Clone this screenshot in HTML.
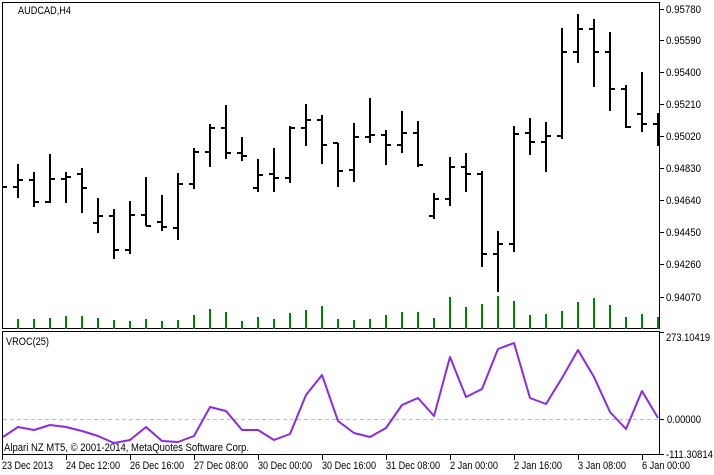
<!DOCTYPE html>
<html><head><meta charset="utf-8"><style>
html,body{margin:0;padding:0;background:#fff;}
svg{display:block;font-family:"Liberation Sans",sans-serif;font-size:11px;}
</style></head><body>
<svg width="714" height="475" viewBox="0 0 714 475" xmlns="http://www.w3.org/2000/svg">
<rect width="714" height="475" fill="#fff"/>
<g fill="none" stroke="#000" stroke-width="1" shape-rendering="crispEdges">
<rect x="2.5" y="2.5" width="657" height="326"/>
<rect x="2.5" y="331.5" width="657" height="123"/>
</g>
<line x1="3" y1="419.5" x2="659" y2="419.5" stroke="#c0c0c0" stroke-dasharray="4,3" shape-rendering="crispEdges"/>
<g stroke="#008000" stroke-width="2" shape-rendering="crispEdges">
<path d="M18 329V319M34 329V319M50 329V318M66 329V316M82 329V316M98 329V318M114 329V320M130 329V321M146 329V319M162 329V321M178 329V320M194 329V315M210 329V309M226 329V312M242 329V321M258 329V317M274 329V319M290 329V313M306 329V310M322 329V306M338 329V319M354 329V320M370 329V319M386 329V315M402 329V312M418 329V312M434 329V318M450 329V297M466 329V307M482 329V304M498 329V296M514 329V301M530 329V315M546 329V314M562 329V311M578 329V302M594 329V298M610 329V305M626 329V317M642 329V314M658 329V317"/>
</g>
<g stroke="#000" stroke-width="2" fill="none" shape-rendering="crispEdges">
<path d="M3 187H7
M18 164V198M13 187H18M18 180H23
M34 172V207M29 180H34M34 202H39
M50 154V203M45 202H50M50 179H55
M66 172V203M61 179H66M66 177H71
M82 168V213M77 174H82M82 188H87
M98 198V233M93 223H98M98 216H103
M114 209V259M109 216H114M114 250H119
M130 201V254M125 250H130M130 215H135
M146 177V226M141 215H146M146 226H151
M162 195V231M157 222H162M162 227H167
M178 173V240M173 228H178M178 184H183
M194 148V189M189 184H194M194 152H199
M210 124V167M205 152H210M210 128H215
M226 105V159M221 128H226M226 153H231
M242 137V161M237 153H242M242 156H247
M258 159V192M253 188H258M258 175H263
M274 148V192M269 174H274M274 178H279
M290 126V183M285 178H290M290 128H295
M306 104V146M301 128H306M306 120H311
M322 115V164M317 120H322M322 145H327
M338 143V187M333 143H338M338 171H343
M354 123V182M349 170H354M354 137H359
M370 98V143M365 137H370M370 135H375
M386 130V165M381 135H386M386 145H391
M402 111V153M397 145H402M402 133H407
M418 121V167M413 133H418M418 165H423
M434 193V219M429 216H434M434 199H439
M450 157V206M445 199H450M450 167H455
M466 153V192M461 167H466M466 174H471
M482 171V267M477 174H482M482 254H487
M498 231V292M493 254H498M498 244H503
M514 126V252M509 244H514M514 134H519
M530 118V155M525 133H530M530 142H535
M546 122V172M541 142H546M546 136H551
M562 28V139M557 136H562M562 52H567
M578 14V63M573 52H578M578 29H583
M594 19V87M589 29H594M594 52H599
M610 32V111M605 52H610M610 89H615
M626 85V128M621 89H626M626 127H631
M642 72V132M637 114H642M642 124H647
M658 113V146M653 124H658"/>
</g>
<polyline fill="none" stroke="#8a2be2" stroke-width="2" stroke-linejoin="round" points="3,437 18,427 34,430 50,425 66,427 82,431 98,436 114,443 130,440 146,427 162,441 178,442 194,436 210,407 226,411 242,430 258,430 274,440 290,434 306,395 322,375 338,421 354,433 370,437 386,428 402,405 418,398 434,416 450,357 466,397 482,389 498,349 514,343 530,398 546,404 562,378 578,350 594,377 610,412 626,429 642,391 658,418"/>
<g stroke="#000" stroke-width="1" shape-rendering="crispEdges">
<path d="M660 9.5H664M660 40.5H664M660 72.5H664M660 104.5H664M660 136.5H664M660 168.5H664M660 200.5H664M660 232.5H664M660 264.5H664M660 297.5H664M660 332.5H664M660 419.5H664M660 454.5H664"/>
<path d="M2.5 455V460M66.5 455V460M130.5 455V460M194.5 455V460M258.5 455V460M322.5 455V460M386.5 455V460M450.5 455V460M514.5 455V460M578.5 455V460M642.5 455V460"/>
</g>
<g fill="#000" lengthAdjust="spacingAndGlyphs">
<text x="18" y="14" textLength="53" lengthAdjust="spacingAndGlyphs">AUDCAD,H4</text>
<text x="6" y="345" textLength="43" lengthAdjust="spacingAndGlyphs">VROC(25)</text>
<text x="4" y="451" textLength="245" lengthAdjust="spacingAndGlyphs">Alpari NZ MT5, © 2001-2014, MetaQuotes Software Corp.</text>
<text x="666" y="13" textLength="35" lengthAdjust="spacingAndGlyphs">0.95780</text>
<text x="666" y="44" textLength="35" lengthAdjust="spacingAndGlyphs">0.95590</text>
<text x="666" y="76" textLength="35" lengthAdjust="spacingAndGlyphs">0.95400</text>
<text x="666" y="108" textLength="35" lengthAdjust="spacingAndGlyphs">0.95210</text>
<text x="666" y="140" textLength="35" lengthAdjust="spacingAndGlyphs">0.95020</text>
<text x="666" y="172" textLength="35" lengthAdjust="spacingAndGlyphs">0.94830</text>
<text x="666" y="204" textLength="35" lengthAdjust="spacingAndGlyphs">0.94640</text>
<text x="666" y="236" textLength="35" lengthAdjust="spacingAndGlyphs">0.94450</text>
<text x="666" y="268" textLength="35" lengthAdjust="spacingAndGlyphs">0.94260</text>
<text x="666" y="301" textLength="35" lengthAdjust="spacingAndGlyphs">0.94070</text>
<text x="666" y="341" textLength="44" lengthAdjust="spacingAndGlyphs">273.10419</text>
<text x="667" y="423" textLength="34" lengthAdjust="spacingAndGlyphs">0.00000</text>
<text x="666" y="458" textLength="47" lengthAdjust="spacingAndGlyphs">-111.30814</text>
<text x="2" y="469" textLength="51" lengthAdjust="spacingAndGlyphs">23 Dec 2013</text>
<text x="66" y="469" textLength="54" lengthAdjust="spacingAndGlyphs">24 Dec 12:00</text>
<text x="130" y="469" textLength="54" lengthAdjust="spacingAndGlyphs">26 Dec 16:00</text>
<text x="194" y="469" textLength="54" lengthAdjust="spacingAndGlyphs">27 Dec 08:00</text>
<text x="258" y="469" textLength="54" lengthAdjust="spacingAndGlyphs">30 Dec 00:00</text>
<text x="322" y="469" textLength="54" lengthAdjust="spacingAndGlyphs">30 Dec 16:00</text>
<text x="386" y="469" textLength="54" lengthAdjust="spacingAndGlyphs">31 Dec 08:00</text>
<text x="450" y="469" textLength="48" lengthAdjust="spacingAndGlyphs">2 Jan 00:00</text>
<text x="514" y="469" textLength="48" lengthAdjust="spacingAndGlyphs">2 Jan 16:00</text>
<text x="578" y="469" textLength="48" lengthAdjust="spacingAndGlyphs">3 Jan 08:00</text>
<text x="642" y="469" textLength="48" lengthAdjust="spacingAndGlyphs">6 Jan 00:00</text>
</g>
</svg>
</body></html>
